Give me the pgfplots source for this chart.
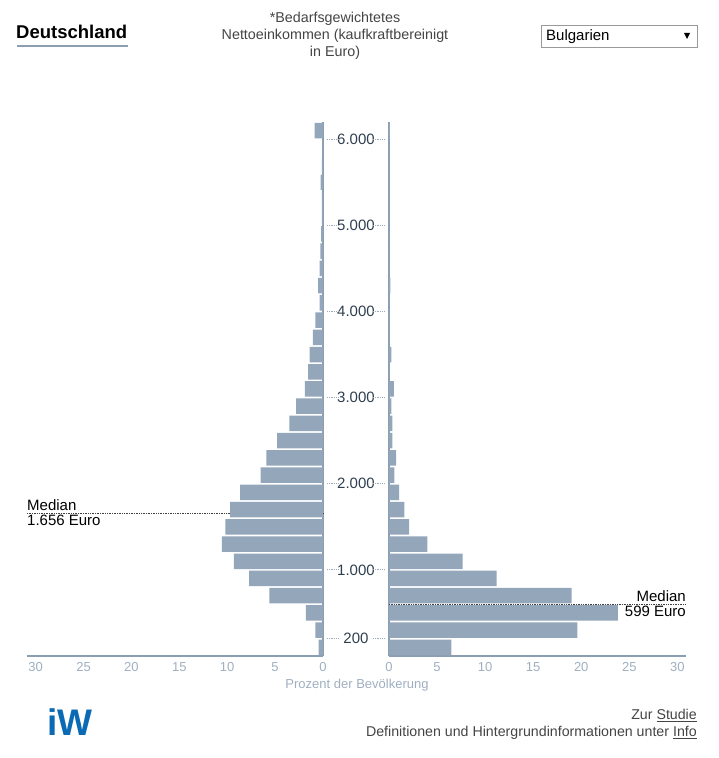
\documentclass[border=0pt]{standalone}
\usepackage{pgfplots}
\usepackage{pgfplotstable}
\pgfplotsset{compat=1.18}
\usepackage{fontspec}
\setmainfont{Liberation Sans}
\definecolor{barcol}{HTML}{93A6BA}
\definecolor{axcol}{HTML}{8C9EB2}
\definecolor{tickcol}{HTML}{9FAFC0}
\definecolor{lblcol}{HTML}{2F3E4E}
\definecolor{dotcol}{HTML}{9AAABB}
\definecolor{iwblue}{HTML}{0A6AB4}
\definecolor{txtcol}{HTML}{444444}

\pgfplotstableread{
y de bg
100 0.45 6.5
300 0.8 19.6
500 1.8 23.8
700 5.6 19.0
900 7.7 11.2
1100 9.3 7.65
1300 10.55 4.0
1500 10.2 2.1
1700 9.7 1.6
1900 8.65 1.05
2100 6.5 0.55
2300 5.9 0.75
2500 4.8 0.35
2700 3.5 0.35
2900 2.8 0.25
3100 1.9 0.5
3300 1.55 0.05
3500 1.4 0.25
3700 1.05 0.05
3900 0.8 0.03
4100 0.35 0.03
4300 0.5 0.15
4500 0.35 0.03
4700 0.27 0.02
4900 0.2 0.02
5100 0.13 0.02
5300 0.13 0.02
5500 0.24 0.02
5700 0.13 0.02
5900 0.05 0.02
6100 0.87 0.1
}\data

\pgfplotsset{pyr/.style={
  scale only axis, height=534pt,
  ymin=0, ymax=6200, xmin=0, xmax=30.9,
  axis x line*=bottom,
  axis line style={axcol},
  x axis line style={line width=1.2pt},
  y axis line style={line width=2pt},
  ytick=\empty,
  xtick={0,5,...,30},
  xtick style={draw=none},
  xticklabel style={font=\fontsize{13}{13}\selectfont, text=tickcol, yshift=-3pt},
  /pgf/number format/assume math mode=true,
  xbar, bar width=15.5pt,
  clip=false,
}}

\begin{document}
\begin{tikzpicture}
\path (0pt,0pt) rectangle (718pt,758pt);

% left axis: Deutschland
\begin{axis}[pyr, at={(27pt,102pt)}, anchor=south west, width=296pt,
  x dir=reverse, axis y line*=right]
  \draw[densely dotted, black!75, line width=0.7pt] (axis cs:30.9,1656) -- (axis cs:0,1656);
  \addplot[fill=barcol, draw=none] table[x=de, y=y] {\data};
  \node[anchor=base west, inner sep=0pt, font=\fontsize{15}{15}\selectfont] at ([yshift=3pt]axis cs:30.9,1656) {Median};
  \node[anchor=base west, inner sep=0pt, font=\fontsize{15}{15}\selectfont] at ([yshift=-12pt]axis cs:30.9,1656) {1.656 Euro};
\end{axis}

% right axis: Bulgarien
\begin{axis}[pyr, at={(389pt,102pt)}, anchor=south west, width=297pt,
  axis y line*=left]
  \draw[densely dotted, black!75, line width=0.7pt] (axis cs:0,599) -- (axis cs:30.9,599);
  \addplot[fill=barcol, draw=none] table[x=bg, y=y] {\data};
  \node[anchor=base east, inner sep=0pt, font=\fontsize{15}{15}\selectfont] at ([yshift=3pt]axis cs:30.9,599) {Median};
  \node[anchor=base east, inner sep=0pt, font=\fontsize{15}{15}\selectfont] at ([yshift=-12pt]axis cs:30.9,599) {599 Euro};
  \foreach \v/\l in {200/200,1000/1.000,2000/2.000,3000/3.000,4000/4.000,5000/5.000,6000/6.000}{
    \edef\temp{\noexpand\node[anchor=center, inner sep=0pt, text=lblcol, font=\noexpand\fontsize{15}{15}\noexpand\selectfont] at ([xshift=-33pt]axis cs:0,\v) {\l};
      \noexpand\draw[densely dotted, dotcol, line width=0.8pt] ([xshift=-62pt]axis cs:0,\v) -- ([xshift=-50pt]axis cs:0,\v);
      \noexpand\draw[densely dotted, dotcol, line width=0.8pt] ([xshift=-16pt]axis cs:0,\v) -- ([xshift=-4pt]axis cs:0,\v);}
    \temp
  }
\end{axis}

% x label
\node[text=tickcol, font=\fontsize{13}{13}\selectfont] at (357pt,73pt) {Prozent der Bevölkerung};

% title
\node[anchor=west, inner sep=0pt, font=\fontsize{18.5}{19}\selectfont\bfseries] at (16pt,726pt) {Deutschland};
\draw[axcol, line width=2.5pt] (17pt,712pt) -- (128pt,712pt);

% header
\node[align=center, text=txtcol, font=\fontsize{14.3}{17.3}\selectfont] at (335pt,722pt)
  {*Bedarfsgewichtetes\\Nettoeinkommen (kaufkraftbereinigt\\in Euro)};

% dropdown
\draw[black!40, line width=0.8pt] (541pt,711pt) rectangle (697pt,733pt);
\node[anchor=west, inner sep=0pt, font=\fontsize{15}{15}\selectfont] at (546pt,721pt) {Bulgarien};
\fill[black] (684pt,725pt) -- (690pt,725pt) -- (687pt,719pt) -- cycle;

% logo
\node[anchor=base west, inner sep=0pt, text=iwblue, font=\fontsize{37}{37}\selectfont\bfseries] at (47pt,23pt) {iW};

% footer
\node[anchor=base east, inner sep=0pt, text=txtcol, font=\fontsize{14.2}{15}\selectfont] at (697pt,38pt) {Zur \underline{Studie}};
\node[anchor=base east, inner sep=0pt, text=txtcol, font=\fontsize{14.2}{15}\selectfont] at (697pt,21pt) {Definitionen und Hintergrundinformationen unter \underline{Info}};
\end{tikzpicture}
\end{document}
